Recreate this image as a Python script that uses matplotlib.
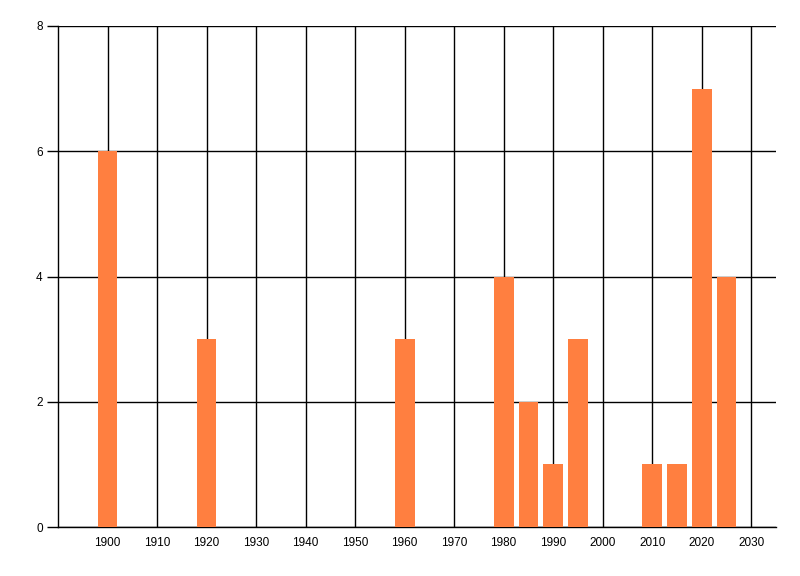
import matplotlib
matplotlib.use("Agg")
import matplotlib.pyplot as plt

years = [1900, 1920, 1960, 1980, 1985, 1990, 1995, 2010, 2015, 2020, 2025]
counts = [6, 3, 3, 4, 2, 1, 3, 1, 1, 7, 4]
xticks = list(range(1900, 2031, 10))
yticks = [0, 2, 4, 6, 8]

plt.rcParams['font.family'] = ['Liberation Sans', 'DejaVu Sans']

fig = plt.figure(figsize=(8, 5.76), dpi=100)
ax = fig.add_axes([58/800, 49/576, (776-58)/800, (527-26)/576])

ax.bar(years, counts, width=4, color='#FF7F40', zorder=3)

ax.set_xlim(1890, 2035)
ax.set_ylim(0, 8)
ax.set_xticks(xticks)
ax.set_yticks(yticks)
ax.grid(True, color='black', linewidth=1, zorder=1)
ax.set_axisbelow(True)

for s in ['top', 'right']:
    ax.spines[s].set_visible(False)
ax.spines['left'].set_linewidth(1)
ax.spines['bottom'].set_linewidth(1)

ax.tick_params(axis='x', length=0, pad=7, labelsize=8.5)
ax.tick_params(axis='y', length=8, width=1, pad=3, labelsize=8.5)

fig.savefig('out.png', dpi=100)
